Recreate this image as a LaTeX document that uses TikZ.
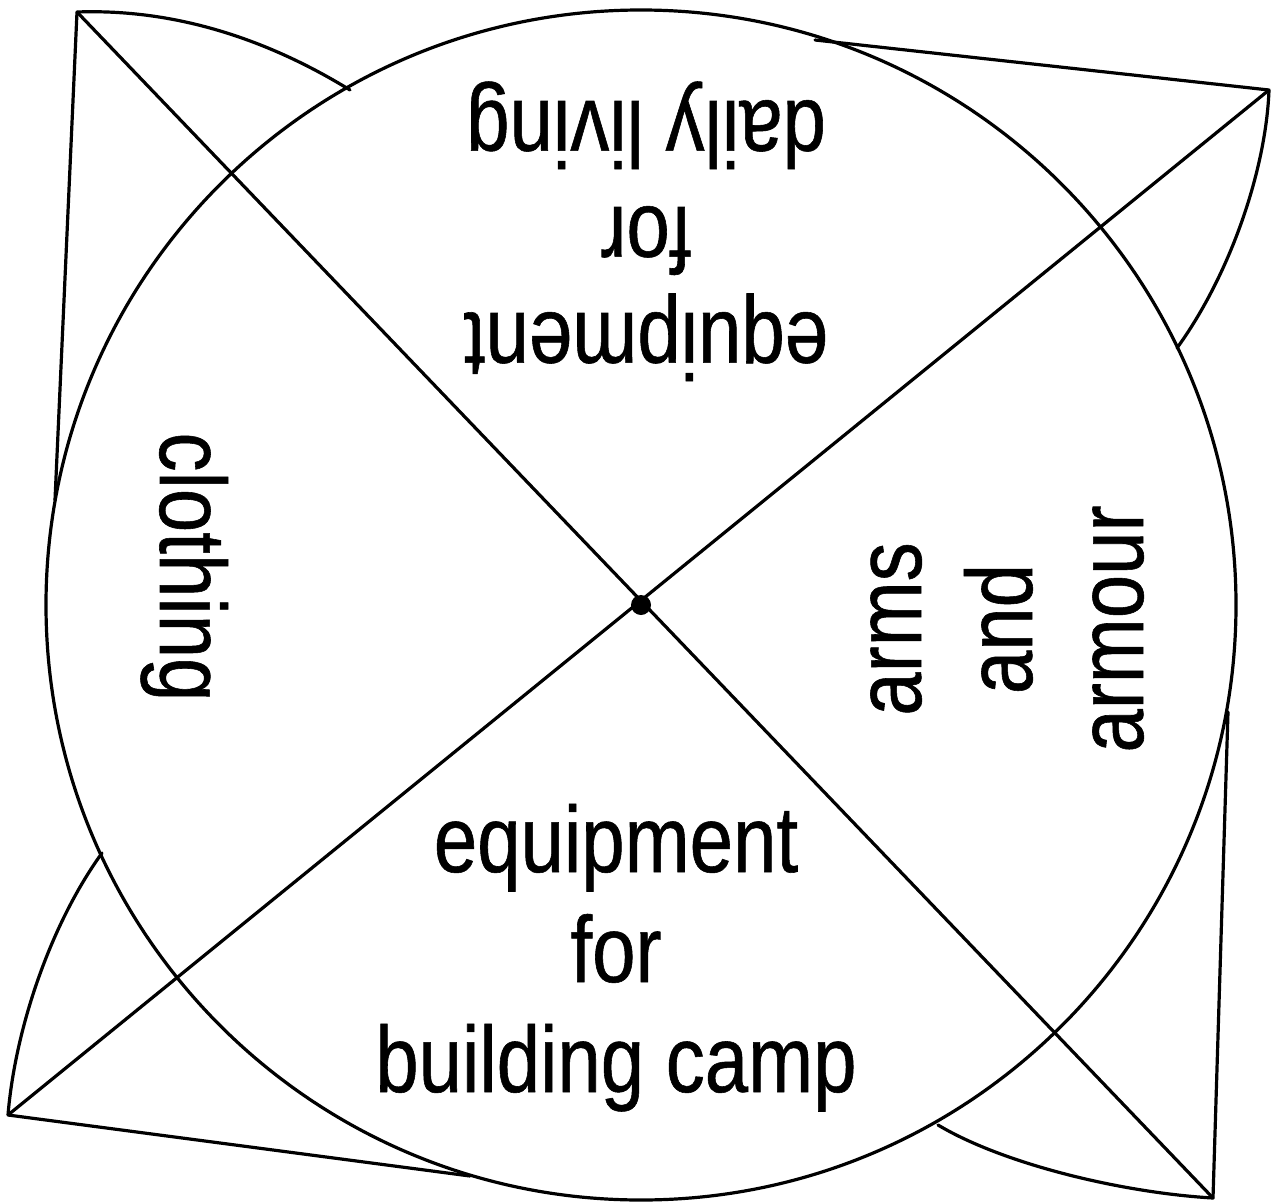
\documentclass[tikz,border=0pt]{standalone}
\usepackage{fontspec}
\setmainfont{Liberation Sans}[FakeStretch=0.83,FakeBold=0.6]
\begin{document}
\begin{tikzpicture}[x=1pt,y=-1pt,
  edge/.style={draw=black,line width=3.2pt,line cap=round,line join=round},
  lbl/.style={font=\fontsize{94}{110}\selectfont,align=center,anchor=base,inner sep=0pt},
  lbltop/.style={font=\fontsize{94}{106}\selectfont,align=center,anchor=base,inner sep=0pt}]
\useasboundingbox (0,0) rectangle (1275,1202);
% key points
\coordinate (c) at (641,605);
\coordinate (tl) at (77,12);
\coordinate (tr) at (1269,90);
\coordinate (br) at (1213,1198);
\coordinate (bl) at (8,1115);
\coordinate (tlS) at (55,500);
\coordinate (tlA) at (350,90);
\coordinate (trS) at (815,40);
\coordinate (trA) at (1177,348);
\coordinate (brS) at (1228,712);
\coordinate (brA) at (938,1125);
\coordinate (blS) at (470,1176);
\coordinate (blA) at (102,853);
% circle
\draw[edge] (c) circle[radius=595pt];
% diagonals
\draw[edge] (tl) -- (br);
\draw[edge] (tr) -- (bl);
% flaps
\draw[edge] (tlS) -- (tl) .. controls (190,8) and (285,50) .. (tlA);
\draw[edge] (trS) -- (tr) .. controls (1266,170) and (1230,275) .. (trA);
\draw[edge] (brS) -- (br) .. controls (1125,1193) and (1005,1165) .. (brA);
\draw[edge] (blS) -- (bl) .. controls (15,1030) and (50,925) .. (blA);
% centre dot
\fill[black] (c) circle[radius=10pt];
% labels (base anchor = baseline of the last line)
\node[lbl] (bottom) at (616,1092) {equipment\\for\\building camp};
\node[lbltop,rotate=180] (top) at (646,101) {equipment\\for\\daily living};
\node[lbl,rotate=-90] (left) at (160,567) {clothing};
\node[lbl,font=\fontsize{94}{111}\selectfont,rotate=90] (right) at (1143,629) {arms\\and\\armour};
\end{tikzpicture}
\end{document}
